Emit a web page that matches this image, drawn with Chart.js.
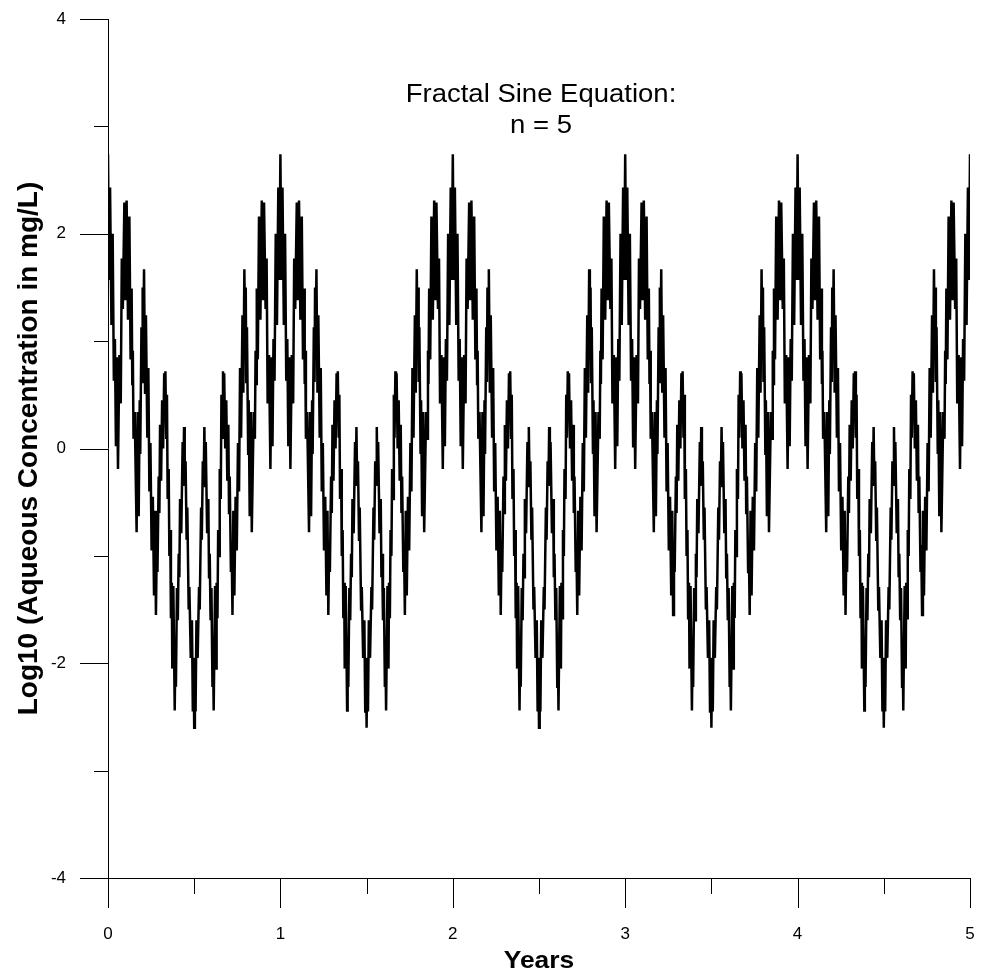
<!DOCTYPE html>
<html>
<head>
<meta charset="utf-8">
<script src="https://cdn.jsdelivr.net/npm/chart.js@4.4.1/dist/chart.umd.min.js"></script>
<style>
    html, body { margin: 0; padding: 0; background: #ffffff; }
    canvas { display: block; }
</style>
</head>
<body>
<canvas id="fractalChart" width="982" height="971"></canvas>
<script>
    // one yearly cycle (time within the year, log10 conc.)
    // the reference repeats the same cycle in every year
    var cycleTime = [
        0.000, 0.006, 0.012, 0.020, 0.027, 0.034, 0.040, 0.046, 0.051, 0.058,
        0.066, 0.074, 0.080, 0.086, 0.095, 0.101, 0.108, 0.116, 0.124, 0.131,
        0.137, 0.141, 0.144, 0.148, 0.155, 0.166, 0.172, 0.178, 0.184, 0.187,
        0.194, 0.198, 0.201, 0.205, 0.209, 0.215, 0.220, 0.228, 0.234, 0.240,
        0.246, 0.253, 0.260, 0.267, 0.273, 0.278, 0.283, 0.287, 0.294, 0.298,
        0.302, 0.308, 0.314, 0.320, 0.326, 0.330, 0.333, 0.338, 0.342, 0.346,
        0.352, 0.356, 0.361, 0.365, 0.370, 0.373, 0.379, 0.387, 0.390, 0.394,
        0.400, 0.405, 0.410, 0.414, 0.418, 0.425, 0.433, 0.437, 0.441, 0.445,
        0.450, 0.456, 0.460, 0.468, 0.472, 0.480, 0.487, 0.492, 0.496, 0.500,
        0.504, 0.508, 0.513, 0.520, 0.528, 0.532, 0.540, 0.544, 0.550, 0.555,
        0.559, 0.563, 0.567, 0.575, 0.582, 0.586, 0.590, 0.595, 0.600, 0.606,
        0.610, 0.613, 0.621, 0.627, 0.630, 0.635, 0.639, 0.644, 0.648, 0.654,
        0.658, 0.662, 0.667, 0.670, 0.674, 0.680, 0.686, 0.692, 0.698, 0.702,
        0.706, 0.713, 0.717, 0.722, 0.727, 0.733, 0.740, 0.747, 0.754, 0.760,
        0.766, 0.772, 0.780, 0.785, 0.791, 0.795, 0.799, 0.802, 0.806, 0.813,
        0.816, 0.822, 0.828, 0.834, 0.845, 0.852, 0.856, 0.859, 0.863, 0.869,
        0.876, 0.884, 0.892, 0.899, 0.905, 0.914, 0.920, 0.926, 0.934, 0.942,
        0.949, 0.954, 0.960, 0.966, 0.973, 0.980, 0.988, 0.994, 1.000
    ];
    var cycleConc = [
        2.74, 1.57, 2.43, 1.15, 2.00, 0.63, 1.02, 0.02, 0.85, -0.19,
        0.87, 0.42, 1.77, 1.30, 2.29, 1.38, 2.31, 1.20, 2.16, 0.83,
        1.49, 0.60, 0.91, 0.09, 0.34, -0.78, 0.34, -0.63, 0.45, -0.05,
        1.13, 0.62, 1.50, 1.05, 1.67, 0.52, 1.24, 0.10, 0.75, -0.40,
        0.05, -0.95, -0.45, -1.37, -0.58, -1.55, -0.90, -1.15, -0.26, -0.60,
        0.22, -0.30, 0.45, 0.00, 0.70, 0.35, 0.72, 0.10, 0.50, -0.47,
        -0.19, -1.00, -0.76, -1.58, -1.25, -2.05, -1.28, -2.44, -2.00, -2.22,
        -1.30, -1.60, -0.98, -1.20, -0.47, -0.79, 0.06, -0.35, 0.20, -0.30,
        -0.12, -0.85, -0.55, -1.50, -1.29, -1.95, -1.60, -2.45, -1.95, -2.60,
        -1.95, -2.45, -1.60, -1.95, -1.29, -1.50, -0.55, -0.85, -0.12, -0.30,
        0.20, -0.35, 0.06, -0.79, -0.47, -1.20, -0.98, -1.60, -1.30, -2.22,
        -2.00, -2.44, -1.28, -2.05, -1.25, -1.58, -0.76, -1.00, -0.19, -0.47,
        0.50, 0.10, 0.72, 0.35, 0.70, 0.00, 0.45, -0.30, 0.22, -0.60,
        -0.26, -1.15, -0.90, -1.55, -0.58, -1.37, -0.45, -0.95, 0.05, -0.40,
        0.75, 0.10, 1.24, 0.52, 1.67, 1.05, 1.50, 0.62, 1.13, -0.05,
        0.45, -0.63, 0.34, -0.78, 0.34, 0.09, 0.91, 0.60, 1.49, 0.83,
        2.16, 1.20, 2.31, 1.38, 2.29, 1.30, 1.77, 0.42, 0.87, -0.19,
        0.85, 0.02, 1.02, 0.63, 2.00, 1.15, 2.43, 1.57, 2.74
    ];
    var yearStarts = [0, 1, 2, 3, 4];

    var xMajorTicks = [0, 1, 2, 3, 4, 5];
    var xMinorTicks = [0.5, 1.5, 2.5, 3.5, 4.5];
    var yMajorTicks = [-4, -2, 0, 2, 4];
    var yMinorTicks = [-3, -1, 1, 3];

    var titleLines = ['Fractal Sine Equation:', 'n = 5'];
    var xTitle = 'Years';
    var yTitle = 'Log10 (Aqueous Concentration in mg/L)';

    var series = [];
    yearStarts.forEach(function (start) {
        cycleTime.forEach(function (t, i) {
            series.push({ x: start + t, y: cycleConc[i] });
        });
    });

    function stretchedText(ctx, text, x, y, sx) {
        ctx.save();
        ctx.translate(x, y);
        ctx.scale(sx, 1);
        ctx.fillText(text, 0, 0);
        ctx.restore();
    }

    // axis lines, ticks of two lengths, titles
    var axesPlugin = {
        id: 'axesPlugin',
        afterDraw: function (chart) {
            var ctx = chart.ctx;
            var xs = chart.scales.x;
            var ys = chart.scales.y;
            var area = chart.chartArea;
            ctx.save();
            ctx.strokeStyle = '#000000';
            ctx.lineWidth = 1;
            ctx.beginPath();
            ctx.moveTo(area.left + 0.5, area.top);
            ctx.lineTo(area.left + 0.5, area.bottom);
            ctx.moveTo(area.left - 28, area.bottom + 0.5);
            ctx.lineTo(area.right, area.bottom + 0.5);
            yMajorTicks.forEach(function (v) {
                var py = Math.round(ys.getPixelForValue(v)) + 0.5;
                ctx.moveTo(area.left - 28, py);
                ctx.lineTo(area.left + 1, py);
            });
            yMinorTicks.forEach(function (v) {
                var py = Math.round(ys.getPixelForValue(v)) + 0.5;
                ctx.moveTo(area.left - 14, py);
                ctx.lineTo(area.left + 1, py);
            });
            xMajorTicks.forEach(function (v) {
                var px = Math.round(xs.getPixelForValue(v)) + 0.5;
                ctx.moveTo(px, area.bottom);
                ctx.lineTo(px, area.bottom + 30);
            });
            xMinorTicks.forEach(function (v) {
                var px = Math.round(xs.getPixelForValue(v)) + 0.5;
                ctx.moveTo(px, area.bottom);
                ctx.lineTo(px, area.bottom + 16);
            });
            ctx.stroke();

            ctx.fillStyle = '#000000';
            ctx.textAlign = 'center';
            ctx.textBaseline = 'alphabetic';
            ctx.font = '25px "Liberation Sans", Arial, sans-serif';
            stretchedText(ctx, titleLines[0], 541, 102, 1.1);
            stretchedText(ctx, titleLines[1], 541, 133, 1.1);

            ctx.font = 'bold 24px "Liberation Sans", Arial, sans-serif';
            stretchedText(ctx, xTitle, (area.left + area.right) / 2, 968, 1.1);

            ctx.font = 'bold 28px "Liberation Sans", Arial, sans-serif';
            ctx.translate(37, (area.top + area.bottom) / 2);
            ctx.rotate(-Math.PI / 2);
            ctx.fillText(yTitle, 0, 0);
            ctx.restore();
        }
    };

    var fractalChart = new Chart(document.getElementById('fractalChart'), {
        type: 'line',
        data: {
            datasets: [{
                data: series,
                borderColor: '#000000',
                borderWidth: 2.5,
                pointRadius: 0,
                tension: 0,
                fill: false
            }]
        },
        options: {
            responsive: false,
            animation: false,
            layout: { padding: { top: 19, right: 12, left: 0, bottom: 0 } },
            plugins: {
                legend: { display: false },
                tooltip: { enabled: false }
            },
            scales: {
                x: {
                    type: 'linear',
                    min: 0,
                    max: 5,
                    afterFit: function (scale) { scale.height = 93; },
                    grid: { display: false, drawTicks: true, tickLength: 44 },
                    border: { display: false },
                    ticks: {
                        stepSize: 1,
                        padding: 2,
                        color: '#000000',
                        font: { family: '"Liberation Sans", Arial, sans-serif', size: 17 }
                    }
                },
                y: {
                    min: -4,
                    max: 4,
                    afterFit: function (scale) { scale.width = 108; },
                    grid: { display: false, drawTicks: true, tickLength: 40 },
                    border: { display: false },
                    ticks: {
                        stepSize: 2,
                        padding: 2,
                        color: '#000000',
                        font: { family: '"Liberation Sans", Arial, sans-serif', size: 17 }
                    }
                }
            }
        },
        plugins: [axesPlugin]
    });
</script>
</body>
</html>
